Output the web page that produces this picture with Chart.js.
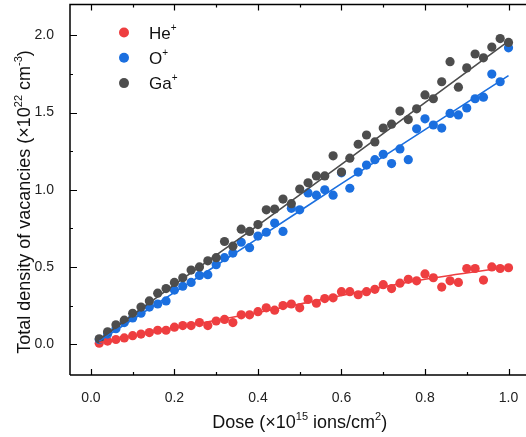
<!DOCTYPE html>
<html>
<head>
<meta charset="utf-8">
<script src="https://cdn.jsdelivr.net/npm/chart.js@4.4.1/dist/chart.umd.min.js"></script>
<style>
  html, body { margin: 0; padding: 0; background: #fff; overflow: hidden; width: 526px; height: 437px; }
  #wrap { width: 534px; height: 437px; }
</style>
</head>
<body>
<div id="wrap"><canvas id="chart" width="534" height="437"></canvas></div>
<script>
// dose values (x10^15 ions/cm2)
const doses = [0.02,0.04,0.06,0.08,0.10,0.12,0.14,0.16,0.18,0.20,
               0.22,0.24,0.26,0.28,0.30,0.32,0.34,0.36,0.38,0.40,
               0.42,0.44,0.46,0.48,0.50,0.52,0.54,0.56,0.58,0.60,
               0.62,0.64,0.66,0.68,0.70,0.72,0.74,0.76,0.78,0.80,
               0.82,0.84,0.86,0.88,0.90,0.92,0.94,0.96,0.98,1.00];

// total density of vacancies (x10^22 cm-3)
const heValues = [0.006,0.02,0.03,0.04,0.055,0.065,0.075,0.09,0.09,0.11,
                  0.12,0.12,0.14,0.12,0.15,0.16,0.14,0.19,0.19,0.21,
                  0.235,0.22,0.25,0.26,0.235,0.29,0.265,0.295,0.30,0.34,
                  0.34,0.32,0.34,0.355,0.385,0.36,0.395,0.42,0.41,0.455,
                  0.43,0.37,0.41,0.40,0.49,0.49,0.415,0.50,0.49,0.495];
const oValues = [0.03,0.065,0.10,0.14,0.17,0.20,0.24,0.26,0.28,0.35,
                 0.375,0.40,0.445,0.45,0.515,0.56,0.59,0.66,0.625,0.70,
                 0.725,0.785,0.73,0.88,0.87,0.98,0.965,1.00,0.965,1.11,
                 1.01,1.115,1.16,1.195,1.23,1.17,1.265,1.195,1.395,1.46,
                 1.42,1.40,1.495,1.485,1.53,1.59,1.60,1.75,1.70,1.92];
const gaValues = [0.035,0.08,0.125,0.155,0.20,0.24,0.28,0.33,0.36,0.40,
                  0.43,0.48,0.50,0.54,0.56,0.665,0.635,0.745,0.73,0.775,
                  0.87,0.875,0.94,0.91,1.005,1.045,1.09,1.09,1.22,1.115,
                  1.205,1.295,1.355,1.31,1.40,1.425,1.51,1.455,1.525,1.615,
                  1.59,1.70,1.83,1.665,1.79,1.88,1.855,1.925,1.98,1.955];

// fitted curves
const fitDoses = [0.02, 0.2, 0.4, 0.6, 0.8, 1.0];
const heFit = [0.01, 0.105, 0.205, 0.315, 0.42, 0.50];
const oFit  = [0.02, 0.335, 0.685, 1.04, 1.39, 1.74];
const gaFit = [0.03, 0.385, 0.77, 1.165, 1.565, 1.963];

const xTicks = [0.0, 0.2, 0.4, 0.6, 0.8, 1.0];
const xMinorTicks = [0.1, 0.3, 0.5, 0.7, 0.9];
const yTicks = [0.0, 0.5, 1.0, 1.5, 2.0];
const yMinorTicks = [0.25, 0.75, 1.25, 1.75];

const seriesNames = ['He', 'O', 'Ga'];
const colors = ['#ee3e40', '#1b6fdf', '#4d4d4d'];

const FONT = '"Liberation Sans", Arial, sans-serif';

function pts(xs, ys) {
    return xs.map((x, i) => ({ x: x, y: ys[i] }));
}

// draw text with superscript parts
function richWidth(ctx, parts, size) {
    let w = 0;
    parts.forEach(p => {
        ctx.font = (p.sup ? Math.round(size * 0.6) : size) + 'px ' + FONT;
        w += ctx.measureText(p.t).width;
    });
    return w;
}
function drawRich(ctx, parts, x, y, size) {
    let cx = x;
    parts.forEach(p => {
        const s = p.sup ? Math.round(size * 0.6) : size;
        ctx.font = s + 'px ' + FONT;
        ctx.fillText(p.t, cx, p.sup ? y - size * 0.45 : y);
        cx += ctx.measureText(p.t).width;
    });
}

const xTitle = [{t: 'Dose (\u00d710'}, {t: '15', sup: true}, {t: ' ions/cm'}, {t: '2', sup: true}, {t: ')'}];
const yTitle = [{t: 'Total density of vacancies (\u00d710'}, {t: '22', sup: true}, {t: ' cm'}, {t: '-3', sup: true}, {t: ')'}];

const framePlugin = {
    id: 'frame',
    afterDraw(chart) {
        const ctx = chart.ctx;
        const a = chart.chartArea;
        const xs = chart.scales.x, ys = chart.scales.y;
        ctx.save();
        ctx.strokeStyle = '#000';
        ctx.lineWidth = 1.5;
        ctx.beginPath();
        ctx.moveTo(a.left, a.bottom);
        ctx.lineTo(a.left, a.top);
        ctx.lineTo(a.right, a.top);
        ctx.lineTo(a.right, a.bottom);
        ctx.lineTo(a.left, a.bottom);
        ctx.stroke();

        ctx.lineWidth = 1.2;
        ctx.beginPath();
        const xt = (v, len) => {
            const p = Math.round(xs.getPixelForValue(v)) + 0.5;
            ctx.moveTo(p, a.bottom); ctx.lineTo(p, a.bottom - len);
            ctx.moveTo(p, a.top); ctx.lineTo(p, a.top + len);
        };
        const yt = (v, len) => {
            const p = Math.round(ys.getPixelForValue(v)) + 0.5;
            ctx.moveTo(a.left, p); ctx.lineTo(a.left + len, p);
        };
        xTicks.forEach(v => xt(v, 6));
        xMinorTicks.forEach(v => xt(v, 3));
        yTicks.forEach(v => yt(v, 7));
        yMinorTicks.forEach(v => yt(v, 3));
        ctx.stroke();

        // axis titles
        ctx.fillStyle = '#111';
        ctx.textBaseline = 'alphabetic';
        ctx.textAlign = 'left';
        const size = 18;
        const wx = richWidth(ctx, xTitle, size);
        drawRich(ctx, xTitle, (a.left + a.right) / 2 - wx / 2, 428, size);

        ctx.save();
        ctx.translate(30, 202);
        ctx.rotate(-Math.PI / 2);
        const wy = richWidth(ctx, yTitle, size);
        drawRich(ctx, yTitle, -wy / 2, 0, size);
        ctx.restore();

        // legend
        seriesNames.forEach((name, i) => {
            const cy = 32.5 + i * 25.3;
            ctx.fillStyle = colors[i];
            ctx.beginPath();
            ctx.arc(124, cy, 5, 0, Math.PI * 2);
            ctx.fill();
            ctx.fillStyle = '#111';
            drawRich(ctx, [{t: name}, {t: '+', sup: true}], 149, cy + 6, 17);
        });
        ctx.restore();
    }
};

const scatterSet = (i, ys, order) => ({
    type: 'scatter',
    label: seriesNames[i],
    data: pts(doses, ys),
    backgroundColor: colors[i],
    borderColor: colors[i],
    borderWidth: 0,
    pointRadius: 4.6,
    pointHoverRadius: 4.6,
    order: order
});
const fitSet = (i, ys, order) => ({
    type: 'line',
    label: seriesNames[i] + ' fit',
    data: pts(fitDoses, ys),
    borderColor: colors[i],
    borderWidth: 1.6,
    pointRadius: 0,
    fill: false,
    tension: 0.4,
    cubicInterpolationMode: 'monotone',
    order: order
});

function noPad(s) {
    s.paddingTop = 0; s.paddingBottom = 0; s.paddingLeft = 0; s.paddingRight = 0;
}

new Chart(document.getElementById('chart'), {
    type: 'scatter',
    data: {
        datasets: [
            scatterSet(0, heValues, 6),
            scatterSet(1, oValues, 5),
            scatterSet(2, gaValues, 4),
            fitSet(0, heFit, 3),
            fitSet(1, oFit, 2),
            fitSet(2, gaFit, 1)
        ]
    },
    plugins: [framePlugin],
    options: {
        responsive: false,
        animation: false,
        layout: { padding: { top: 1, right: 1, left: 0, bottom: 0 } },
        plugins: {
            legend: { display: false },
            tooltip: { enabled: false }
        },
        scales: {
            x: {
                type: 'linear',
                min: -0.05,
                max: 1.05,
                grid: { display: false },
                border: { display: false },
                afterBuildTicks: s => { s.ticks = xTicks.map(v => ({ value: v })); },
                afterFit: s => { s.height = 62; noPad(s); },
                ticks: {
                    padding: 7,
                    color: '#222',
                    font: { family: FONT, size: 14 },
                    callback: v => v.toFixed(1)
                }
            },
            y: {
                type: 'linear',
                min: -0.2,
                max: 2.2,
                grid: { display: false },
                border: { display: false },
                afterBuildTicks: s => { s.ticks = yTicks.map(v => ({ value: v })); },
                afterFit: s => { s.width = 70; noPad(s); },
                ticks: {
                    padding: 8,
                    color: '#222',
                    font: { family: FONT, size: 14 },
                    callback: v => v.toFixed(1)
                }
            }
        }
    }
});
</script>
</body>
</html>
